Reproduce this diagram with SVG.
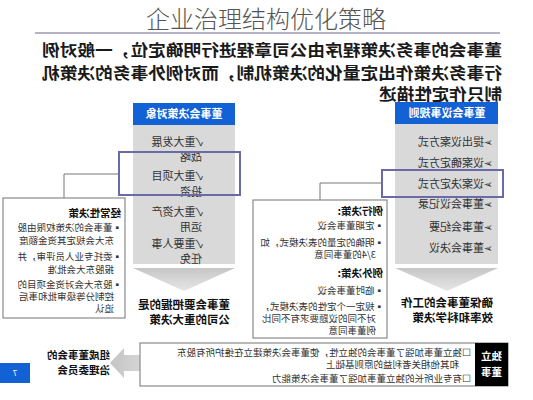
<svg xmlns="http://www.w3.org/2000/svg" width="533" height="400" viewBox="0 0 533 400">
<defs>
<style>
text{font-family:"Noto Sans CJK SC","Noto Sans",sans-serif;}
.title{font-size:24px;font-weight:300;fill:#555;}
.para{font-size:16px;font-weight:bold;fill:#1a1a1a;}
.hdr{font-size:11px;font-weight:bold;fill:#fff;text-anchor:middle;}
.item{font-size:11px;fill:#333;}
.small{font-size:9.5px;fill:#333;}
.bt{font-size:10.5px;font-weight:bold;fill:#111;}
.lbl{font-size:11.5px;font-weight:bold;fill:#111;}
.col{fill:#d9d9d9;}
.blue{fill:#1262d6;}
.hl{fill:none;stroke:#6a6aa8;stroke-width:2;}
.box{fill:#fff;stroke:#8a8a8a;stroke-width:1.2;}
.conn{fill:none;stroke:#777;stroke-width:1;}
</style>
<linearGradient id="chev" x1="0" y1="0" x2="0" y2="1">
<stop offset="0" stop-color="#c6c6c6"/>
<stop offset="1" stop-color="#e6e6e6"/>
</linearGradient>
<linearGradient id="arr" x1="0" y1="0" x2="1" y2="0">
<stop offset="0" stop-color="#d6d6d6"/>
<stop offset="1" stop-color="#c4c4c4"/>
</linearGradient>
</defs>
<rect width="533" height="400" fill="#fff"/>
<g id="title">
<text class="title" x="266" y="28" text-anchor="middle">企业治理结构优化策略</text>
<line x1="35" y1="33" x2="500" y2="33" stroke="#9a9ab2" stroke-width="1.5"/>
</g>
<g id="body" transform="matrix(-1 0 0 1 533 0)">
<g id="intro">
<text class="para" x="31" y="56" textLength="460" lengthAdjust="spacingAndGlyphs">董事会的事务决策程序由公司章程进行明确定位，一般对例</text>
<text class="para" x="31" y="79" textLength="460" lengthAdjust="spacingAndGlyphs">行事务决策作出定量化的决策机制，而对例外事务的决策机</text>
<text class="para" x="31" y="100" textLength="123" lengthAdjust="spacingAndGlyphs">制只作定性描述</text>
</g>
<g id="connectors">
<polyline class="conn" points="414,174 469,174 469,198"/>
<polyline class="conn" points="151,183 213,183 213,200"/>
</g>
<g id="decision-objects">
<rect class="col" x="298" y="125" width="102" height="139"/>
<rect class="blue" x="298" y="103" width="102" height="22"/>
<text class="hdr" x="349" y="118">董事会决策对象</text>
<text class="item" x="330" y="146">✓重大发展</text>
<text class="item" x="331" y="161">战略</text>
<text class="item" x="330" y="180">✓重大项目</text>
<text class="item" x="331" y="196">投资</text>
<text class="item" x="330" y="216">✓重大资产</text>
<text class="item" x="331" y="231">运用</text>
<text class="item" x="330" y="248">✓重要人事</text>
<text class="item" x="331" y="263">任免</text>
<rect class="hl" x="293" y="152" width="121" height="43"/>
<polygon points="298,268 400,268 349,291" fill="url(#chev)"/>
</g>
<g id="rules">
<rect class="col" x="35" y="124" width="103" height="140"/>
<rect class="blue" x="35" y="102" width="103" height="22"/>
<text class="hdr" x="86" y="117">董事会议事规则</text>
<text class="item" x="40" y="146">➢提出议案方式</text>
<text class="item" x="40" y="167">➢议案确定方式</text>
<text class="item" x="40" y="188">➢议案决定方式</text>
<text class="item" x="40" y="208">➢董事会议记录</text>
<text class="item" x="40" y="231">➢董事会纪要</text>
<text class="item" x="40" y="252">➢董事会决议</text>
<rect class="hl" x="30" y="170" width="121" height="27"/>
<polygon points="35,268 138,268 86,291" fill="url(#chev)"/>
</g>
<g id="routine-decisions">
<rect class="box" x="408" y="198" width="122" height="120"/>
<text class="bt" x="412" y="217">经常性决策</text>
<text class="small" x="411" y="231">▪董事会的决策权限由股</text>
<text class="small" x="419" y="244">东大会规定其资金额度</text>
<text class="small" x="411" y="260">▪委托专业人员评审，并</text>
<text class="small" x="419" y="273">报股东大会批准</text>
<text class="small" x="411" y="288">▪股东大会对资金项目的</text>
<text class="small" x="419" y="300">控制分等级审批和事后</text>
<text class="small" x="419" y="312">追认</text>
</g>
<g id="rule-decisions">
<rect class="box" x="146" y="200" width="134" height="138"/>
<text class="bt" x="150" y="215">例行决策:</text>
<text class="small" x="149" y="229">▪定期董事会议</text>
<text class="small" x="149" y="246">▪明确的定量的表决模式，如</text>
<text class="small" x="157" y="258">3/4的董事同意</text>
<text class="bt" x="150" y="277">例外决策:</text>
<text class="small" x="149" y="294">▪临时董事会议</text>
<text class="small" x="149" y="310">▪规定一个定性的表决模式，</text>
<text class="small" x="157" y="322">对不同的议题要求有不同比</text>
<text class="small" x="157" y="334">例董事同意</text>
</g>
<g id="left-result">
<text class="lbl" x="303" y="309">董事会要把握的是</text>
<text class="lbl" x="303" y="324">公司的重大决策</text>
</g>
<g id="right-result">
<text class="lbl" x="40" y="307">确保董事会的工作</text>
<text class="lbl" x="40" y="322">效率和科学决策</text>
</g>
<g id="independent-directors">
<polygon points="391,355 409,355 409,348 423,363 409,378 409,371 391,371" fill="url(#arr)"/>
<rect class="box" x="25" y="343" width="368" height="43"/>
<rect x="25" y="343" width="33" height="43" fill="#000"/>
<text class="hdr" x="41.5" y="360" style="font-size:10.5px">独立</text>
<text class="hdr" x="41.5" y="376" style="font-size:10.5px">董事</text>
<text class="small" x="62" y="356">☐独立董事加强了董事会的独立性，使董事会决策建立在维护所有股东</text>
<text class="small" x="74" y="368">和其他相关者利益的原则基础上</text>
<text class="small" x="62" y="382">☐有专业所长的独立董事加强了董事会决策能力</text>
</g>
<g id="committee">
<text class="bt" x="423" y="359">组成董事会的</text>
<text class="bt" x="423" y="374">治理委员会</text>
</g>
<g id="page-number">
<rect x="503" y="363" width="30" height="20" fill="#1262d6"/>
<text x="518" y="376" text-anchor="middle" style="font-size:8px;fill:#fff">7</text>
</g>
</g>
</svg>
